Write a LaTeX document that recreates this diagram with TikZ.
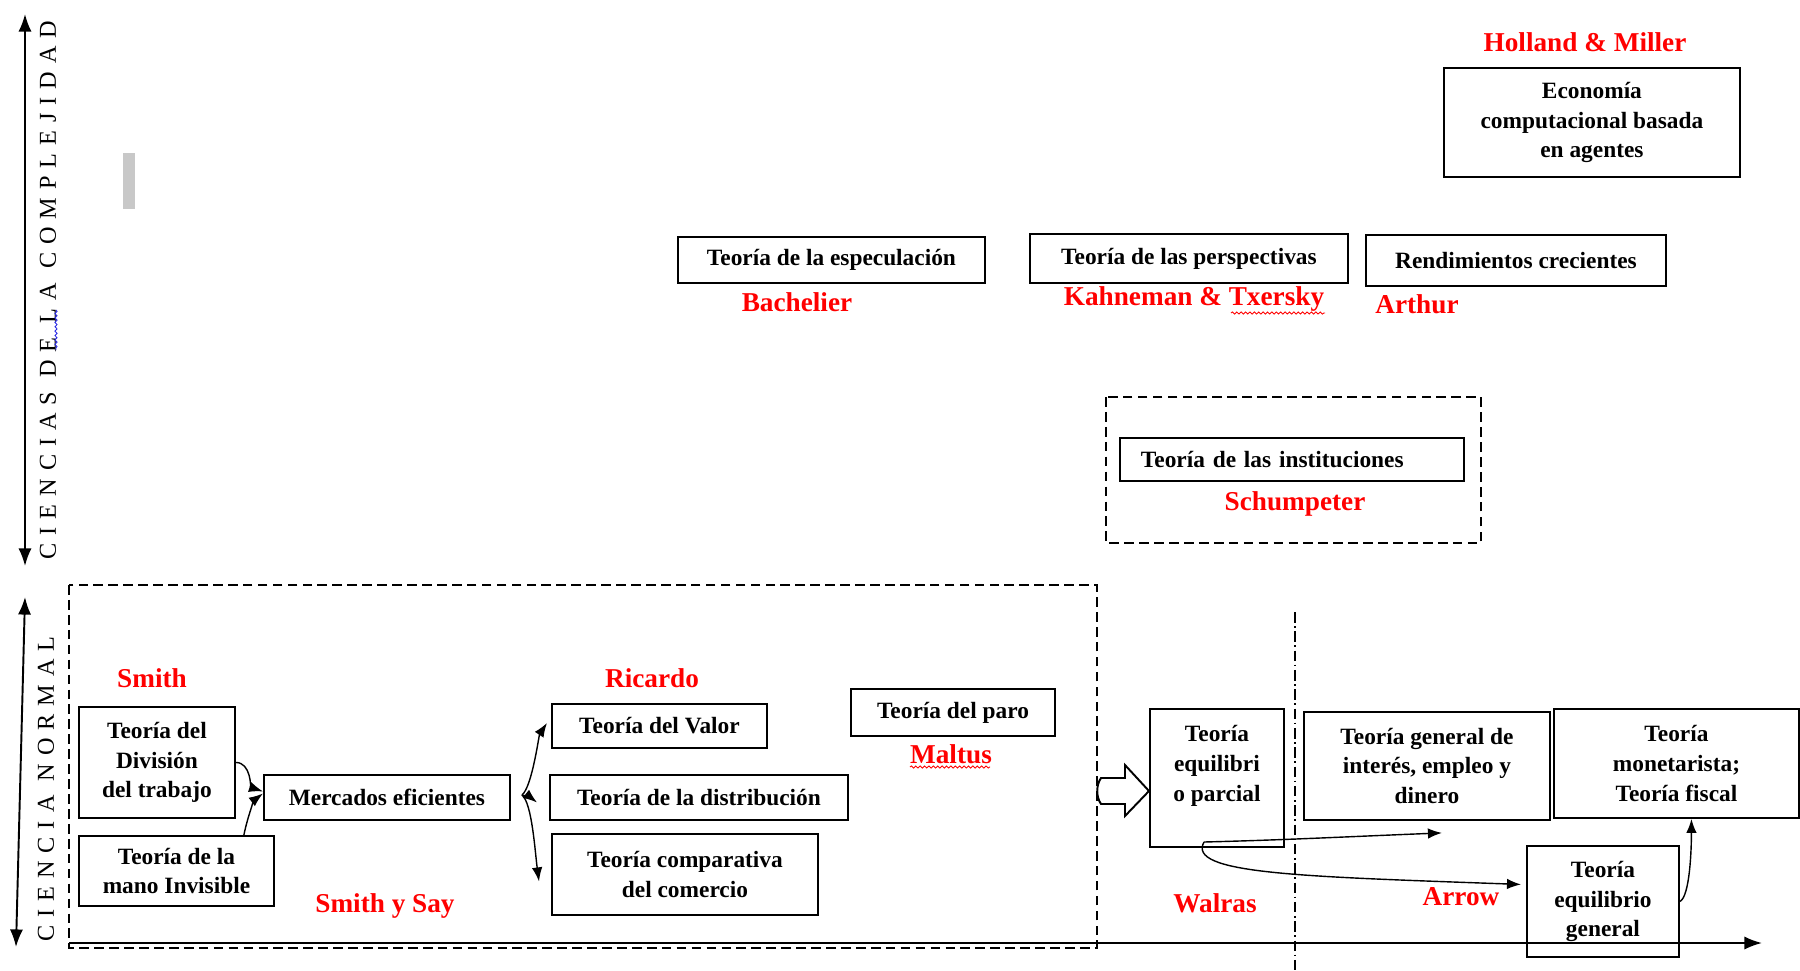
\documentclass[tikz,border=0pt]{standalone}
\usepackage{fontspec}
\setmainfont{Liberation Serif}
\newfontfamily\axisfont[LetterSpace=33]{Liberation Serif}
\usetikzlibrary{calc,arrows.meta,decorations.pathmorphing}
\definecolor{NameRed}{RGB}{255, 0, 0}
\definecolor{MarkGray}{RGB}{200, 200, 200}
\definecolor{CheckBlue}{RGB}{40, 40, 230}

\begin{document}
\begin{tikzpicture}[x=0.02cm, y=-0.02cm, >={Latex[length=8pt,width=6pt]},
  box/.style={draw, line width=1.1pt, inner sep=0pt, align=center,
    font=\fontsize{13.3}{17}\selectfont\bfseries},
  author/.style={text=NameRed, font=\fontsize{15.5}{18}\selectfont\bfseries},
  era/.style={line width=1.1pt, dash pattern=on 5.5pt off 3pt},
  axis/.style={line width=1.1pt, >={Latex[length=10pt,width=7.5pt]}},
  link/.style={->, line width=0.8pt},
  axislabel/.style={rotate=90, font=\fontsize{13.8}{16}\selectfont\axisfont},
  squiggle/.style={decorate, decoration={snake, amplitude=0.6pt, segment length=2.5pt}, line width=0.5pt}]
\useasboundingbox (0,0) rectangle (1800,971);

% axes
\coordinate (topA) at (25,14);
\coordinate (topB) at (25,566);
\coordinate (lowA) at (25,597);
\coordinate (lowB) at (16,947);
\coordinate (timeA) at (69,943);
\coordinate (timeB) at (1762,943);
\draw[axis, <->] (topA) -- (topB);
\draw[axis, <->] (lowA) -- (lowB);
\draw[axis, ->] (timeA) -- (timeB);
\node[axislabel] (complexlabel) at (48,290) {CIENCIAS DE LA COMPLEJIDAD};
\node[axislabel] (normallabel) at (46,789) {CIENCIA NORMAL};
\fill[MarkGray] (123,153) rectangle (135,209);
\draw[squiggle, CheckBlue] (56,310) -- (56,350);

% dashed regions
\draw[era] (69,585) rectangle (1097,948);
\draw[era] (1106,397) rectangle (1481,543);
\draw[line width=0.8pt, dash pattern=on 6pt off 2pt on 1pt off 2pt] (1295,612) -- (1295,971);

% ciencia normal
\node[author] (smith) at (152,678) {Smith};
\node[box, anchor=north west, minimum width=3.12cm, minimum height=2.22cm] (division) at (78,706) {Teoría del\\División\\del trabajo};
\node[box, anchor=north west, minimum width=3.9cm, minimum height=1.4cm] (mano) at (78,835) {Teoría de la\\mano Invisible};
\node[box, anchor=north west, minimum width=4.92cm, minimum height=0.9cm] (mercados) at (263,774) {Mercados eficientes};
\node[author] (smithsay) at (385,906) {Smith y Say};
\node[author] (ricardo) at (652,678) {Ricardo};
\node[box, anchor=north west, minimum width=4.3cm, minimum height=0.88cm] (valor) at (551,703) {Teoría del Valor};
\node[box, anchor=north west, minimum width=5.96cm, minimum height=0.9cm] (distrib) at (549,774) {Teoría de la distribución};
\node[box, anchor=north west, minimum width=5.32cm, minimum height=1.62cm] (comparativa) at (551,833) {Teoría comparativa\\del comercio};
\node[box, anchor=north west, minimum width=4.08cm, minimum height=0.94cm] (paro) at (850,688) {Teoría del paro};
\node[author] (maltus) at (951,754) {Maltus};
\draw[squiggle, NameRed] (910,767) -- (990,767);

\draw[line width=1.1pt] (1101,778) -- (1125,778) -- (1125,765) -- (1149,791) -- (1125,816) -- (1125,804)
  -- (1101,804) .. controls (1096,797) and (1096,785) .. cycle;

\node[box, anchor=north west, minimum width=2.68cm, minimum height=2.76cm] (parcial) at (1149,708) {Teoría\\equilibri\\o parcial\\\mbox{}};
\node[author] (walras) at (1215,903) {Walras};
\node[box, anchor=north west, minimum width=4.92cm, minimum height=2.16cm] (general) at (1303,711) {Teoría general de\\interés,  empleo y\\dinero};
\node[box, anchor=north west, minimum width=4.9cm, minimum height=2.18cm] (monetarista) at (1553,708) {Teoría\\monetarista;\\Teoría fiscal};
\node[box, anchor=north west, minimum width=3.04cm, minimum height=2.22cm] (eqgeneral) at (1526,845) {Teoría\\equilibrio\\general};
\node[author] (arrow) at (1461,897) {Arrow};

% ciencias de la complejidad
\node[box, anchor=north west, minimum width=6.14cm, minimum height=0.92cm] (especulacion) at (677,236) {Teoría de la especulación};
\node[author] (bachelier) at (797,302) {Bachelier};
\node[box, anchor=north west, minimum width=6.36cm, minimum height=0.98cm] (perspectivas) at (1029,233) {Teoría de las perspectivas};
\node[author] (kahneman) at (1194,299) {Kahneman \& Txersky};
\draw[squiggle, NameRed] (1231,313) -- (1325,313);
\node[box, anchor=north west, minimum width=6cm, minimum height=1.02cm] (rendimientos) at (1365,234) {Rendimientos crecientes};
\node[author] (arthur) at (1417,304) {Arthur};
\node[author] (holland) at (1585,42) {Holland \& Miller};
\node[box, anchor=north west, minimum width=5.92cm, minimum height=2.18cm] (economia) at (1443,67) {Economía\\computacional basada\\en agentes};
\node[box, anchor=north west, align=left, inner xsep=0.42cm, text width=6.04cm, minimum height=0.86cm] (instituciones) at (1119,437) {Teoría de las instituciones};
\node[author] (schumpeter) at (1295,504) {Schumpeter};

% links
\draw[link] (division.east) .. controls +(15,0) and +(-12,-4) .. ([yshift=0.12cm]mercados.west);
\draw[link] ([xshift=-0.62cm]mano.north east) .. controls +(4,-20) and +(-8,6) .. ([yshift=0.08cm]mercados.west);
\coordinate (fork) at (522,795);
\draw[link] (fork) .. controls +(10,-8) and +(-8,12) .. ([xshift=-0.08cm,yshift=0.06cm]valor.west);
\draw[link] (fork) .. controls +(8,2) .. ([xshift=-0.24cm,yshift=-0.1cm]distrib.west);
\draw[link] (fork) .. controls +(10,8) and +(-4,-30) .. ([xshift=-0.24cm,yshift=-0.14cm]comparativa.west);
\coordinate (walrasfoot) at (1204,842);
\draw[link] (walrasfoot) .. controls +(80,-2) and +(-100,4) .. ($(general.south)+(15,12)$);
\draw[link] (walrasfoot) .. controls +(-18,32) and +(-220,-8) .. ($(eqgeneral.west)+(-5,-17)$);
\draw[link] (eqgeneral.east) .. controls +(10,-5) and +(0,30) .. ([xshift=0.3cm]monetarista.south);
\end{tikzpicture}
\end{document}
